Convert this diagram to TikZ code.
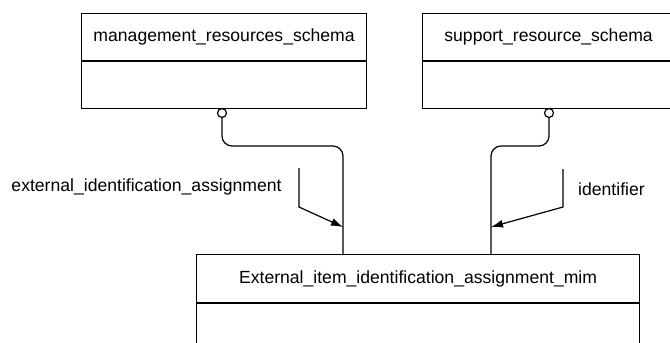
\documentclass[tikz,border=0pt]{standalone}
\usepackage{fontspec}
\setmainfont{Liberation Sans}
\usetikzlibrary{arrows.meta}
\begin{document}
\begin{tikzpicture}[x=1pt,y=-1pt,
  boxpart/.style={draw,line width=1.2pt,rectangle,inner sep=0pt,anchor=north west,
    font=\fontsize{17.6}{20}\selectfont},
  ring/.style={draw,line width=1.2pt,circle,minimum size=9pt,inner sep=0pt,fill=white},
  conn/.style={line width=1.2pt,rounded corners=10pt},
  lblarrow/.style={line width=1.2pt,-{Latex[length=12pt,width=8pt]}},
  lbl/.style={font=\fontsize{17.6}{20}\selectfont,inner sep=0pt}]
\useasboundingbox (0,0) rectangle (670,343);
\clip (0,0) rectangle (670,343);
% top-left entity
\node[boxpart,minimum width=285pt,minimum height=47pt] (mrst) at (81,13) {management\_resources\_schema};
\node[boxpart,minimum width=285pt,minimum height=47pt] (mrsb) at (mrst.south west) {};
% top-right entity
\node[boxpart,minimum width=252pt,minimum height=47pt] (srst) at (422,13) {support\_resource\_schema};
\node[boxpart,minimum width=252pt,minimum height=47pt] (srsb) at (srst.south west) {};
% bottom entity
\node[boxpart,minimum width=443pt,minimum height=48pt] (eimt) at (196,254) {External\_item\_identification\_assignment\_mim};
\node[boxpart,minimum width=443pt,minimum height=60pt] (eimb) at (eimt.south west) {};
% rings
\node[ring] (c1) at (222,113) {};
\node[ring] (c2) at (549,113) {};
% connector ends
\coordinate (j1) at (343,254);
\coordinate (j2) at (491,254);
\draw[conn] (c1.south) -- (222,146) -| (j1);
\draw[conn] (c2.south) -- (549,146) -| (j2);
% labels
\node[lbl,anchor=center] (l1) at (146.5,187) {external\_identification\_assignment};
\node[lbl,anchor=west] (l2) at (578,189) {identifier};
\coordinate (a1s) at (299,168);
\coordinate (a1t) at (343,227);
\coordinate (a2s) at (563,169);
\coordinate (a2t) at (491,227);
\draw[lblarrow] (a1s) -- (299,207) -- (a1t);
\draw[lblarrow] (a2s) -- (563,207) -- (a2t);
\end{tikzpicture}
\end{document}
